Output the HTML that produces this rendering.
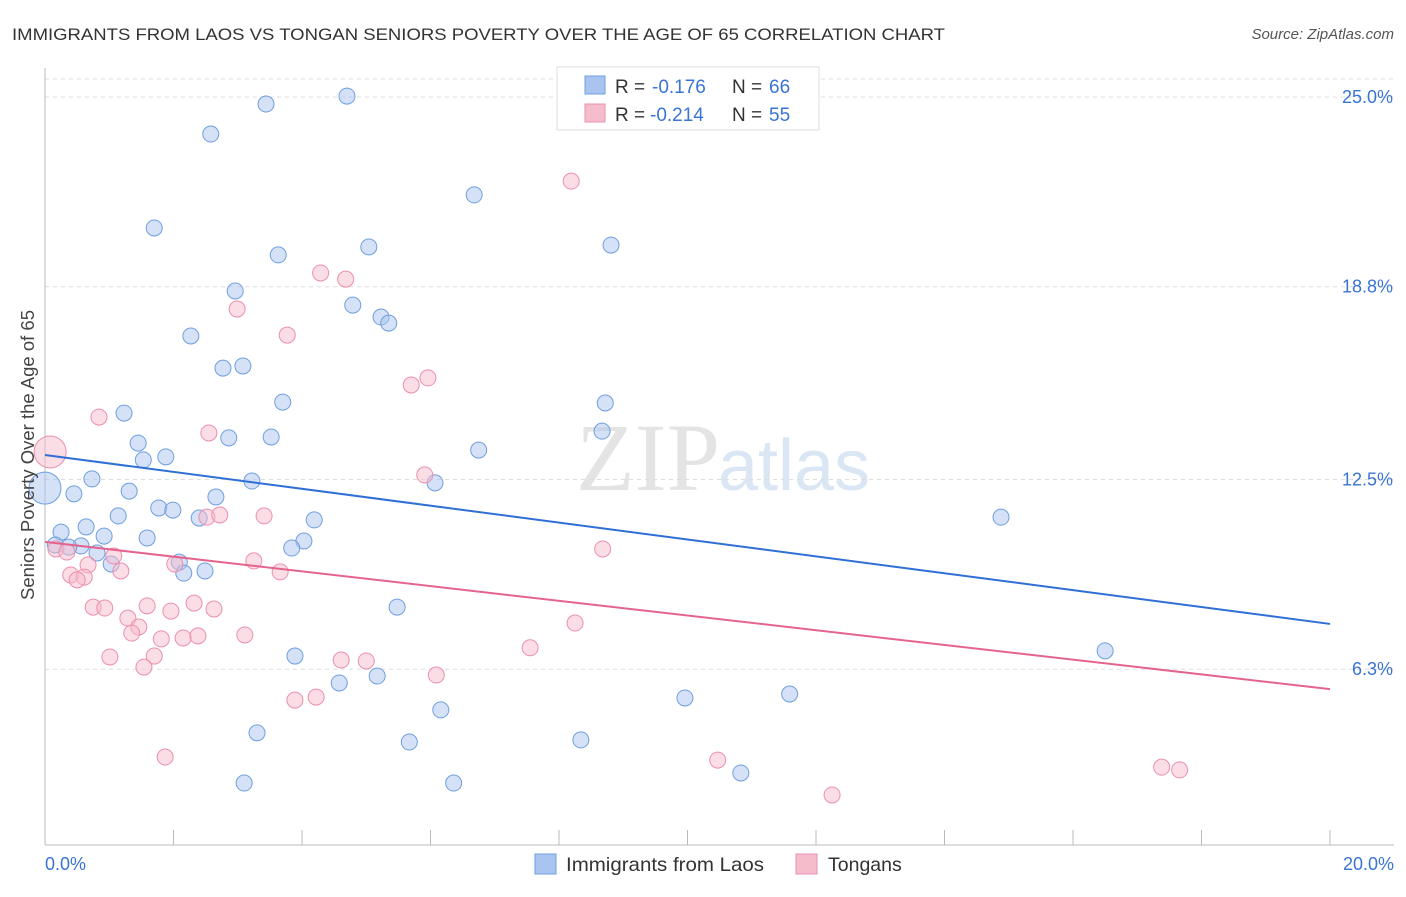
<!DOCTYPE html>
<html><head><meta charset="utf-8"><style>
body{margin:0;background:#fff;font-family:"Liberation Sans",sans-serif;}
</style></head><body>
<svg id="chart" width="1406" height="892" xmlns="http://www.w3.org/2000/svg">
<text x="12" y="40" font-size="17" fill="#333" textLength="933" lengthAdjust="spacingAndGlyphs">IMMIGRANTS FROM LAOS VS TONGAN SENIORS POVERTY OVER THE AGE OF 65 CORRELATION CHART</text>
<text x="1394" y="39" font-size="15" fill="#555" font-style="italic" text-anchor="end">Source: ZipAtlas.com</text>
<text x="720" y="490" font-size="96" fill="#e4e4e4" font-family="Liberation Serif,serif" text-anchor="end">ZIP</text>
<text x="718" y="490" font-size="72" fill="#dbe6f5">atlas</text>
<g id="grid"></g><g id="axes"></g><g id="pts"></g><g id="lines"></g>
<text transform="translate(34,455) rotate(-90)" font-size="18.5" fill="#444" text-anchor="middle">Seniors Poverty Over the Age of 65</text>
<g>
<rect x="557" y="67" width="262" height="63" fill="#fff" stroke="#ddd"/>
<rect x="585" y="76" width="20" height="18" fill="#a9c4ee" stroke="#6f9fe0"/>
<rect x="585" y="104" width="20" height="18" fill="#f5bccc" stroke="#ec8fae"/>
<text x="615" y="93" font-size="19" fill="#333">R =</text>
<text x="652" y="93" font-size="19" fill="#3a74d4">-0.176</text>
<text x="732" y="93" font-size="19" fill="#333">N =</text>
<text x="769" y="93" font-size="19" fill="#3a74d4">66</text>
<text x="615" y="121" font-size="19" fill="#333">R =</text>
<text x="650" y="121" font-size="19" fill="#3a74d4">-0.214</text>
<text x="732" y="121" font-size="19" fill="#333">N =</text>
<text x="769" y="121" font-size="19" fill="#3a74d4">55</text>
</g>
<g>
<rect x="535" y="854" width="21" height="20" fill="#a9c4ee" stroke="#6f9fe0"/>
<text x="566" y="871" font-size="19.5" fill="#333" textLength="198" lengthAdjust="spacingAndGlyphs">Immigrants from Laos</text>
<rect x="796" y="854" width="21" height="20" fill="#f5bccc" stroke="#ec8fae"/>
<text x="828" y="871" font-size="19.5" fill="#333">Tongans</text>
</g>
</svg>
<script>
const yTicks=[25.0,18.8,12.5,6.3];
const yTickLabels=["25.0%","18.8%","12.5%","6.3%"];
const xTickLabels=["0.0%","20.0%"];
const blueX=[3.44,4.70,2.58,6.68,1.70,5.04,8.81,3.63,2.96,4.79,5.23,5.35,2.27,2.77,3.08,3.70,8.72,1.23,8.67,2.86,3.52,1.45,6.75,1.88,1.53,0.73,3.22,6.07,0.45,1.31,2.66,1.77,1.99,1.14,2.40,4.19,14.88,0.64,0.25,0.92,1.59,4.03,0.16,0.56,3.84,0.37,0.81,2.09,1.03,2.16,2.49,5.48,3.89,16.50,4.58,5.17,9.96,11.59,6.16,3.30,5.67,8.34,10.83,3.10,6.36,0.0];
const blueY=[24.77,25.03,23.79,21.80,20.72,20.10,20.16,19.84,18.66,18.20,17.81,17.61,17.19,16.14,16.21,15.03,15.00,14.67,14.08,13.86,13.89,13.69,13.46,13.24,13.14,12.52,12.45,12.39,12.03,12.12,11.93,11.57,11.50,11.31,11.24,11.18,11.27,10.95,10.78,10.65,10.59,10.49,10.36,10.33,10.26,10.29,10.10,9.80,9.74,9.44,9.51,8.33,6.73,6.90,5.85,6.08,5.36,5.49,4.97,4.22,3.92,3.99,2.91,2.58,2.58,12.22];
const pinkX=[8.19,4.29,4.68,2.99,3.77,5.70,5.96,0.84,2.55,5.91,0.08,2.52,2.72,3.41,0.17,0.34,1.07,8.68,0.67,3.25,3.66,0.40,0.61,0.50,1.18,2.02,0.75,0.93,1.59,1.96,2.32,2.63,1.29,1.46,1.35,1.81,2.15,2.38,3.11,8.25,1.01,1.70,1.54,4.61,5.00,7.55,6.09,3.89,4.22,1.87,10.47,17.38,17.66,12.25];
const pinkY=[22.25,19.25,19.05,18.07,17.22,15.59,15.82,14.54,14.02,12.65,13.40,11.27,11.34,11.31,10.23,10.13,10.00,10.23,9.71,9.84,9.48,9.38,9.31,9.22,9.51,9.74,8.33,8.30,8.37,8.20,8.46,8.27,7.97,7.68,7.48,7.29,7.32,7.39,7.42,7.81,6.70,6.73,6.37,6.60,6.57,7.00,6.11,5.29,5.39,3.43,3.33,3.10,3.01,2.19];
const trendBlue=[13.30,7.78];
const trendPink=[10.46,5.65];
const X=v=>45+v/20*1285, Y=v=>97+(25-v)*30.6;
const NS="http://www.w3.org/2000/svg";
function mk(t,a,p){const e=document.createElementNS(NS,t);for(const k in a)e.setAttribute(k,a[k]);p.appendChild(e);return e;}
const grid=document.getElementById('grid'),axes=document.getElementById('axes'),pts=document.getElementById('pts'),lines=document.getElementById('lines');
mk('line',{x1:45,x2:1394,y1:79,y2:79,stroke:'#ddd','stroke-dasharray':'4,4'},grid);
yTicks.forEach((t,i)=>{
 const l=mk('line',{x1:45,x2:1394,y1:Y(t),y2:Y(t),stroke:'#ddd','stroke-dasharray':'4,4'},grid);
 
 
 const tx=mk('text',{x:1393,y:Y(t)+6,'font-size':18,fill:'#3a74d4','text-anchor':'end'},grid);
 tx.textContent=yTickLabels[i];
 
 
});
mk('line',{x1:45,x2:45,y1:68,y2:845,stroke:'#bbb'},axes);
mk('line',{x1:45,x2:1394,y1:845,y2:845,stroke:'#bbb'},axes);
for(let i=1;i<=10;i++){const x=X(i*2);mk('line',{x1:x,x2:x,y1:830,y2:845,stroke:'#bbb'},axes);}
[[0,'start',45],[20,'end',1394]].forEach((d,i)=>{
 const tx=mk('text',{x:d[2],y:870,'font-size':18,fill:'#3a74d4','text-anchor':d[1]},axes);
 tx.textContent=xTickLabels[i];
 
 
});
function dots(xs,ys,fill,stroke,name){xs.forEach((x,i)=>{
 const big=(x===0)||(x<0.1&&ys[i]>13);
 const c=mk('circle',{cx:X(x),cy:Y(ys[i]),r:big?16:8,fill:fill,'fill-opacity':0.5,stroke:stroke,'stroke-width':1},pts);
 
 
});}
dots(blueX,blueY,'#a9c4ee','#6f9fe0','laos-point');
dots(pinkX,pinkY,'#f5bccc','#ec8fae','tongan-point');
const lb=mk('line',{x1:X(0),y1:Y(trendBlue[0]),x2:X(20),y2:Y(trendBlue[1]),stroke:'#2f6fd6','stroke-width':2},lines);


const lp=mk('line',{x1:X(0),y1:Y(trendPink[0]),x2:X(20),y2:Y(trendPink[1]),stroke:'#e4648e','stroke-width':2},lines);


</script>
</body></html>
